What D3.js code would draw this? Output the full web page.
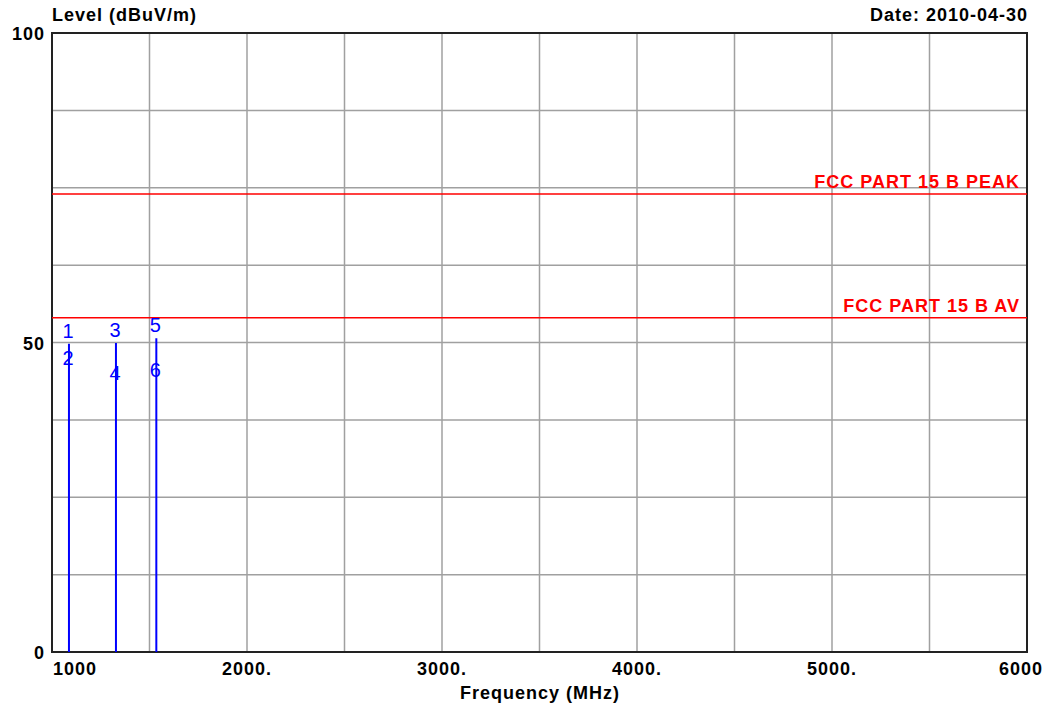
<!DOCTYPE html>
<html><head><meta charset="utf-8">
<script src="https://cdn.jsdelivr.net/npm/d3@7"></script>
<style>body{margin:0;background:#fff}svg{display:block}</style>
</head><body>
<script>
const freqs = [1087, 1328, 1535];
const peakValues = [49.8, 49.9, 50.7];
const avgValues = [45.6, 43.1, 43.6];
const peakLabels = ["1", "3", "5"];
const avgLabels = ["2", "4", "6"];
const limitNames = ["FCC PART 15 B PEAK", "FCC PART 15 B AV"];
const limitValues = [74, 54];
const xTicks = [1000, 2000, 3000, 4000, 5000, 6000];
const xTickLabels = ["1000", "2000.", "3000.", "4000.", "5000.", "6000"];
const yTicks = [0, 50, 100];
const yTickLabels = ["0", "50", "100"];

const W = 1050, H = 707;
const svg = d3.select("body").append("svg").attr("width", W).attr("height", H);
const x = d3.scaleLinear().domain([1000, 6000]).range([52, 1027]);
const y = d3.scaleLinear().domain([0, 100]).range([652, 33]);
const font = "'Liberation Sans', Arial, sans-serif";

function boldText(sel, size) {
  return sel.attr("font-family", font).attr("font-weight", "bold").attr("font-size", size)
    .attr("letter-spacing", 1);
}

// grid
svg.append("g").selectAll("line").data(d3.range(1500, 6000, 500)).join("line")
  .attr("x1", d => x(d)).attr("x2", d => x(d)).attr("y1", y(100)).attr("y2", y(0))
  .attr("stroke", "#a0a0a0").attr("stroke-width", 1.5);
svg.append("g").selectAll("line").data(d3.range(12.5, 100, 12.5)).join("line")
  .attr("x1", x(1000)).attr("x2", x(6000)).attr("y1", d => y(d)).attr("y2", d => y(d))
  .attr("stroke", "#a0a0a0").attr("stroke-width", 1.5);

// frame
svg.append("rect").attr("x", x(1000)).attr("y", y(100)).attr("width", x(6000) - x(1000)).attr("height", y(0) - y(100))
  .attr("fill", "none").attr("stroke", "#222").attr("stroke-width", 2);

// limits
limitValues.forEach((v, i) => {
  svg.append("line").attr("x1", x(1000)).attr("x2", x(6000)).attr("y1", y(v)).attr("y2", y(v))
    .attr("stroke", "#ff0000").attr("stroke-width", 1.5);
  boldText(svg.append("text"), 18).attr("x", 1020).attr("y", y(v) - 6).attr("text-anchor", "end")
    .attr("fill", "#ff0000").text(limitNames[i]);
});

// markers
freqs.forEach((f, i) => {
  svg.append("line").attr("x1", x(f)).attr("x2", x(f)).attr("y1", y(0)).attr("y2", y(peakValues[i]))
    .attr("stroke", "#0000ff").attr("stroke-width", 2);
  svg.append("text").attr("x", x(f) - 1).attr("y", y(peakValues[i]) - 6).attr("text-anchor", "middle")
    .attr("font-family", font).attr("font-size", 20).attr("fill", "#0000ff").text(peakLabels[i]);
  svg.append("text").attr("x", x(f) - 1).attr("y", y(avgValues[i]) - 5).attr("text-anchor", "middle")
    .attr("font-family", font).attr("font-size", 20).attr("fill", "#0000ff").text(avgLabels[i]);
});

// y tick labels
yTicks.forEach((t, i) => {
  boldText(svg.append("text"), 18).attr("x", 45).attr("y", y(t) + 7).attr("text-anchor", "end")
    .attr("fill", "#000").text(yTickLabels[i]);
});
// x tick labels
xTicks.forEach((t, i) => {
  let anchor = "middle", xx = x(t);
  if (i === 0) { anchor = "start"; xx = x(t) + 1; }
  if (i === xTicks.length - 1) { anchor = "end"; xx = 1043; }
  boldText(svg.append("text"), 18).attr("x", xx).attr("y", 675).attr("text-anchor", anchor)
    .attr("fill", "#000").text(xTickLabels[i]);
});

boldText(svg.append("text"), 18).attr("x", 52).attr("y", 21).text("Level (dBuV/m)");
boldText(svg.append("text"), 18).attr("x", 1028).attr("y", 21).attr("text-anchor", "end").text("Date: 2010-04-30");
boldText(svg.append("text"), 18).attr("x", 540).attr("y", 699).attr("text-anchor", "middle").text("Frequency (MHz)");
</script>
</body></html>
